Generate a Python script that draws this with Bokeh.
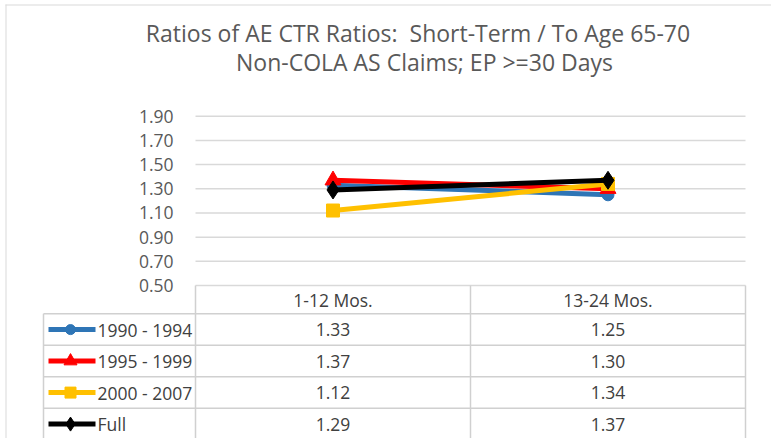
from bokeh.plotting import figure
from bokeh.models import Range1d, ColumnDataSource
from bokeh.core.properties import value
from bokeh.embed import file_html
from bokeh.resources import INLINE

# ---------------- data ----------------
categories = ["1-12 Mos.", "13-24 Mos."]
series_names = ["1990 - 1994", "1995 - 1999", "2000 - 2007", "Full"]
v_1990_1994 = [1.33, 1.25]
v_1995_1999 = [1.37, 1.30]
v_2000_2007 = [1.12, 1.34]
v_full = [1.29, 1.37]
y_ticks = [0.5, 0.7, 0.9, 1.1, 1.3, 1.5, 1.7, 1.9]
title_line1 = "Ratios of AE CTR Ratios:\u00a0 Short-Term / To Age 65-70"
title_line2 = "Non-COLA AS Claims; EP >=30 Days"

series_values = [v_1990_1994, v_1995_1999, v_2000_2007, v_full]

# ---------------- styles / geometry ----------------
colors = ["#2E75B6", "#FF0000", "#FFC000", "#000000"]
markers = ["circle", "triangle", "square", "diamond"]
marker_sizes = [12, 16, 13, 18]
legend_marker_sizes = [10, 13, 11, 14]
FONT = "Open Sans"
TXT = "#404040"
AXT = "#595959"
GRID = "#d9d9d9"
TBL = "#d0d0d0"
FS = "17.5px"

W, H = 771, 438
COL_LEFT = 195                   # px of the category axis start
COL_PX = 275.0                   # px per category
Y_ZERO_PX = 285.0                # px of value 0.5
PX_PER_UNIT = 169.3 / 1.4        # px per value unit
ROW_PX = 31.5
HEADER_ROWS = 0.9


def sx(px):
    return (px - COL_LEFT) / COL_PX


def sy(py):
    return 0.5 + (Y_ZERO_PX - py) / PX_PER_UNIT


x_range = Range1d(sx(0), sx(W))
y_range = Range1d(sy(H), sy(0))
table_range = Range1d((H - Y_ZERO_PX) / ROW_PX - HEADER_ROWS,
                      (0 - Y_ZERO_PX) / ROW_PX - HEADER_ROWS)

p = figure(width=W, height=H, x_range=x_range, y_range=y_range,
           x_axis_location=None, y_axis_location=None,
           toolbar_location=None, output_backend="svg",
           min_border=0, min_border_left=0, min_border_right=0,
           min_border_top=0, min_border_bottom=0,
           outline_line_color=None,
           background_fill_color="white", border_fill_color="white")
p.extra_y_ranges = {"table": table_range}
p.xgrid.visible = False
p.ygrid.visible = False

# chart-area border
p.segment(x0=[sx(5), sx(5.5)], x1=[sx(W), sx(5.5)], y0=[sy(4.5), sy(4)], y1=[sy(4.5), sy(H)],
          line_color=GRID, line_width=1)

# titles
p.text(x=[sx(417.5), sx(424)], y=[sy(32), sy(61)], text=[title_line1, title_line2],
       text_align="center", text_baseline="middle",
       text_font=value(FONT), text_font_size="23px", text_color=AXT)

n_cols = len(categories)
n_rows = len(series_names)

# value gridlines across the category area
p.segment(x0=[0] * len(y_ticks), x1=[n_cols] * len(y_ticks), y0=y_ticks, y1=y_ticks,
          line_color=GRID, line_width=1.5)
# value tick labels
p.text(x=[sx(COL_LEFT - 22)] * len(y_ticks), y=y_ticks,
       text=[f"{t:.2f}" for t in y_ticks], text_align="right", text_baseline="middle",
       text_font=value(FONT), text_font_size=FS, text_color=AXT)

# series lines + markers
cat_x = [i + 0.5 for i in range(n_cols)]
for name, vals, c, m, s in zip(series_names, series_values, colors, markers, marker_sizes):
    src = ColumnDataSource(dict(x=cat_x, y=vals))
    p.line("x", "y", source=src, line_color=c, line_width=5)
    p.scatter("x", "y", source=src, marker=m, size=s, fill_color=c, line_color=c)

# ---------------- data table ----------------
legend_left = sx(43)
hx0, hx1, hy0, hy1 = [], [], [], []
for r in range(n_rows + 1):
    hx0.append(legend_left); hx1.append(float(n_cols)); hy0.append(r); hy1.append(r)
hx0.append(legend_left); hx1.append(legend_left); hy0.append(0); hy1.append(n_rows + 1)
for c in range(n_cols + 1):
    hx0.append(c); hx1.append(c); hy0.append(-HEADER_ROWS); hy1.append(n_rows + 1)
p.segment(x0=hx0, y0=hy0, x1=hx1, y1=hy1, line_color=TBL, line_width=1.5,
          y_range_name="table")

p.text(x=cat_x, y=[-HEADER_ROWS / 2] * n_cols, text=categories,
       text_align="center", text_baseline="middle", y_range_name="table",
       text_font=value(FONT), text_font_size=FS, text_color=TXT)

vx, vy, vt = [], [], []
for r, vals in enumerate(series_values):
    for c, v in enumerate(vals):
        vx.append(c + 0.5); vy.append(r + 0.5); vt.append(f"{v:.2f}")
p.text(x=vx, y=vy, text=vt, text_align="center", text_baseline="middle",
       y_range_name="table",
       text_font=value(FONT), text_font_size=FS, text_color=TXT)

for r, (c, m, s) in enumerate(zip(colors, markers, legend_marker_sizes)):
    yy = r + 0.5
    p.line([sx(48), sx(95)], [yy, yy], line_color=c, line_width=5, y_range_name="table")
    p.scatter([sx(70)], [yy], marker=m, size=s, fill_color=c, line_color=c,
              y_range_name="table")
p.text(x=[sx(97)] * n_rows, y=[r + 0.5 for r in range(n_rows)], text=series_names,
       text_align="left", text_baseline="middle", y_range_name="table",
       text_font=value(FONT), text_font_size=FS, text_color=TXT)

open("out.html", "w").write(file_html(p, INLINE))
